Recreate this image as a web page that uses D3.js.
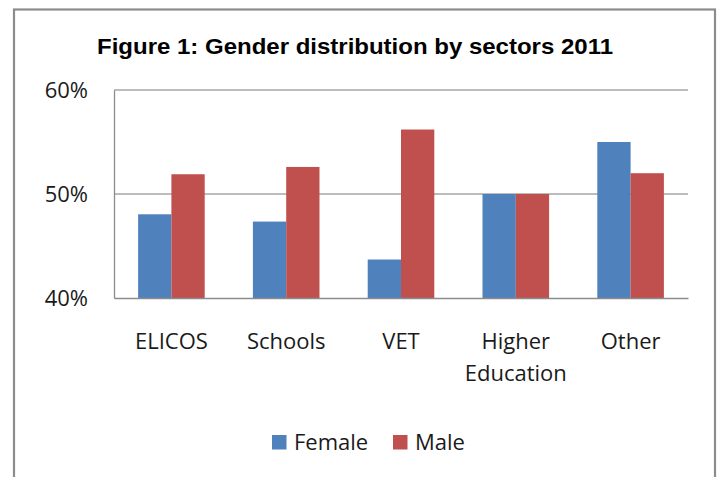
<!DOCTYPE html>
<html>
<head>
<meta charset="utf-8">
<script src="https://cdn.jsdelivr.net/npm/d3@7"></script>
<style>
  html, body { margin: 0; padding: 0; background: #ffffff; }
  svg { display: block; }
</style>
</head>
<body>
<svg id="chart" width="721" height="477"></svg>
<script>
const categories = [["ELICOS"], ["Schools"], ["VET"], ["Higher", "Education"], ["Other"]];
const seriesNames = ["Female", "Male"];
const female = [48.05, 47.35, 43.7, 50.0, 55.0];
const male = [51.9, 52.6, 56.2, 50.0, 52.0];
const yTicks = [40, 50, 60];
const title = "Figure 1: Gender distribution by sectors 2011";

(function () {
const colors = { Female: "#4F81BD", Male: "#C0504D" };
const svg = d3.select("#chart");
const labelFont = "'Open Sans', 'Noto Sans', sans-serif";

// outer frame
svg.append("rect")
  .attr("x", 14).attr("y", 9.5)
  .attr("width", 701).attr("height", 480)
  .attr("fill", "#ffffff")
  .attr("stroke", "#8c8c8c").attr("stroke-width", 2.2);

// title
svg.append("text")
  .attr("x", 97).attr("y", 54)
  .attr("textLength", 516).attr("lengthAdjust", "spacingAndGlyphs")
  .attr("font-family", "'Liberation Sans Narrow', 'Liberation Sans', Arial, sans-serif")
  .attr("font-weight", "bold").attr("font-size", 22.5)
  .attr("fill", "#000")
  .text(title);

const pLeft = 114, pRight = 688, pTop = 90, pBottom = 298;
const catKeys = categories.map(c => c.join(" "));
const x0 = d3.scaleBand().domain(catKeys).range([pLeft, pRight]).paddingInner(0).paddingOuter(0);
const barW = x0.bandwidth() * 0.29;
const x1 = d3.scaleBand().domain(seriesNames).range([-barW, barW]);
const y = d3.scaleLinear().domain([40, 60]).range([pBottom, pTop]);

// gridlines
svg.append("g").selectAll("line").data(yTicks.filter(t => t > 40)).join("line")
  .attr("x1", pLeft).attr("x2", pRight)
  .attr("y1", d => y(d)).attr("y2", d => y(d))
  .attr("stroke", "#a6a6a6").attr("stroke-width", 1.3);

// bars
const data = catKeys.map((k, i) => ({ key: k, values: [
  { name: "Female", v: female[i] }, { name: "Male", v: male[i] } ] }));
const groups = svg.append("g").selectAll("g").data(data).join("g")
  .attr("transform", d => `translate(${x0(d.key) + x0.bandwidth() / 2},0)`);
groups.selectAll("rect").data(d => d.values).join("rect")
  .attr("x", d => x1(d.name))
  .attr("width", x1.bandwidth())
  .attr("y", d => y(d.v))
  .attr("height", d => y(40) - y(d.v))
  .attr("fill", d => colors[d.name]);

// axes
const yAxis = d3.axisLeft(y).tickValues(yTicks).tickSize(0).tickFormat(d => d + "%");
const yg = svg.append("g").attr("transform", `translate(${pLeft},0)`).call(yAxis);
yg.select(".domain").attr("stroke", "#8c8c8c").attr("stroke-width", 1.3);
yg.selectAll("text")
  .attr("x", -26).attr("dy", "0.36em")
  .attr("font-family", labelFont).attr("font-size", 22).attr("fill", "#1a1a1a");

const xAxis = d3.axisBottom(x0).tickSize(0).tickFormat("");
const xg = svg.append("g").attr("transform", `translate(0,${pBottom})`).call(xAxis);
xg.select(".domain").attr("stroke", "#8c8c8c").attr("stroke-width", 1.3);

// category labels (multi-line)
const cl = svg.append("g").selectAll("text").data(categories).join("text")
  .attr("text-anchor", "middle")
  .attr("font-family", labelFont).attr("font-size", 22).attr("fill", "#1a1a1a");
cl.each(function(lines, i) {
  const t = d3.select(this);
  const cx = x0(catKeys[i]) + x0.bandwidth() / 2;
  lines.forEach((ln, j) => {
    t.append("tspan").attr("x", cx).attr("y", pBottom + 51 + j * 32).text(ln);
  });
});

// legend
const legend = [{ name: "Female", sx: 272, tx: 294 }, { name: "Male", sx: 393, tx: 415 }];
const lg = svg.append("g").selectAll("g").data(legend).join("g");
lg.append("rect").attr("x", d => d.sx).attr("y", 435).attr("width", 14.5).attr("height", 14.5)
  .attr("fill", d => colors[d.name]);
lg.append("text").attr("x", d => d.tx).attr("y", 450)
  .attr("font-family", labelFont).attr("font-size", 22).attr("fill", "#1a1a1a")
  .text(d => d.name);
})();
</script>
</body>
</html>
